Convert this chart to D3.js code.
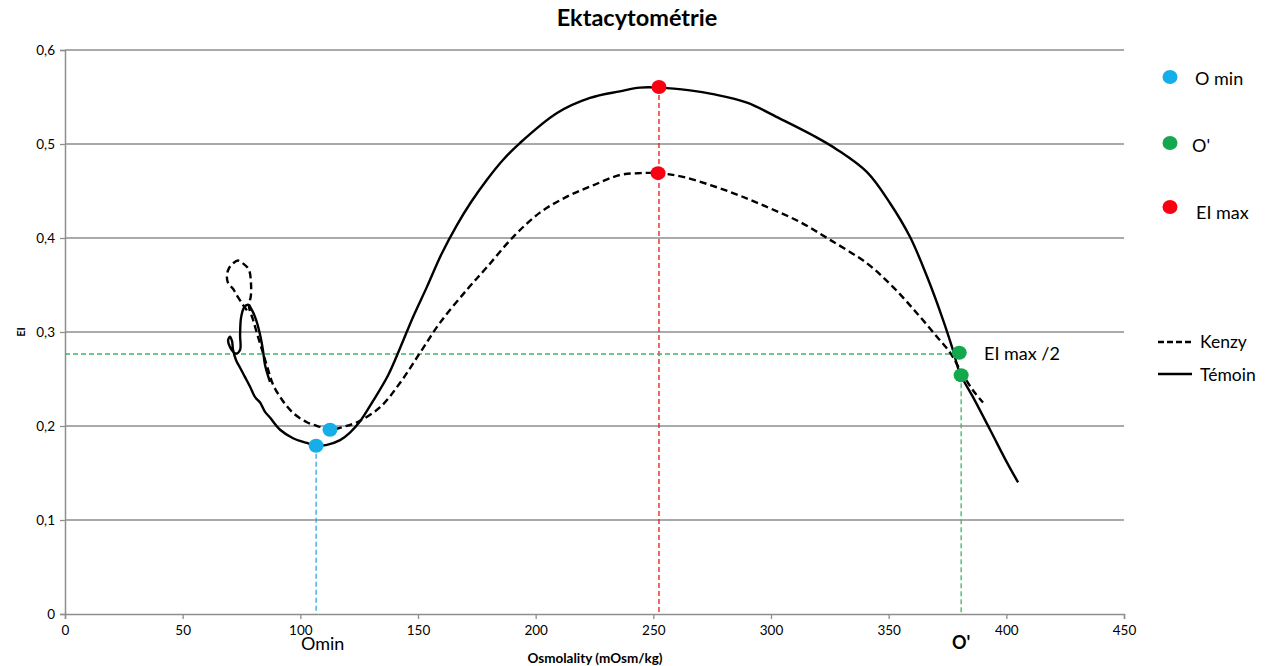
<!DOCTYPE html>
<html>
  <head>
    <title>Ektacytométrie</title>
    <meta charset="utf-8" />
    <style>
      body { margin: 0; background: #fff; }
      text { font-family: Lato, "Open Sans", sans-serif; }
    </style>
  </head>
  <body>
    <div id="plot"></div>

    <script src="https://d3js.org/d3.v7.min.js"></script>
    <script>
      // Témoin (solid), in drawing order
      const temoinX = [87.1, 85.0, 84.1, 82.9, 81.2, 79.5, 77.8, 76.1, 74.8, 74.4, 74.4, 72.7, 71.4, 70.1, 69.3, 70.1, 71.0, 71.4, 72.7,
        74.4, 76.5, 78.6, 80.7, 82.9, 85.0, 87.1, 91.4, 96.9, 102.8, 106.7, 111.3, 116.9, 121.1, 125.4, 130.5, 137.3, 142.4,
        147.9, 153.8, 160.0, 166.6, 172.5, 179.3, 186.1, 193.3, 209.1, 223.1, 235.8, 244.3, 252.8, 265.6, 275.4, 289.8, 303.8,
        317.9, 328.1, 340.8, 350.6, 359.1, 366.3, 373.1, 377.3, 380.3, 385.8, 393.1, 400.3, 405.0];
      const temoinY = [0.247, 0.265, 0.281, 0.297, 0.313, 0.323, 0.329, 0.326, 0.315, 0.297, 0.281, 0.277, 0.279, 0.284, 0.291, 0.295, 0.290, 0.281, 0.270,
        0.262, 0.252, 0.242, 0.231, 0.225, 0.215, 0.209, 0.196, 0.187, 0.182, 0.179, 0.180, 0.185, 0.193, 0.205, 0.225, 0.254, 0.283,
        0.316, 0.348, 0.383, 0.414, 0.438, 0.462, 0.483, 0.501, 0.533, 0.549, 0.556, 0.560, 0.560, 0.557, 0.553, 0.544, 0.527,
        0.509, 0.494, 0.470, 0.437, 0.401, 0.359, 0.313, 0.281, 0.256, 0.231, 0.196, 0.161, 0.140];

      // Kenzy (dashed)
      const kenzyX = [77.3, 75.6, 73.5, 71.4, 69.3, 68.8, 69.7, 71.4, 73.5, 76.1, 78.2, 79.0, 79.0, 78.2, 79.9, 82.0, 84.1, 86.3,
        88.4, 92.2, 96.9, 102.8, 108.4, 113.0, 118.1, 124.1, 133.9, 142.4, 150.9, 159.4, 170.8, 179.3, 190.4, 201.8, 213.3,
        224.4, 235.8, 244.3, 252.0, 262.6, 282.6, 298.3, 312.3, 325.1, 340.8, 351.8, 362.0, 370.5, 376.1, 380.3, 385.8, 390.1];
      const kenzyY = [0.323, 0.329, 0.337, 0.346, 0.352, 0.360, 0.368, 0.373, 0.376, 0.372, 0.366, 0.353, 0.339, 0.327, 0.313, 0.295, 0.278, 0.260,
        0.244, 0.228, 0.214, 0.204, 0.199, 0.196, 0.199, 0.204, 0.220, 0.246, 0.278, 0.310, 0.345, 0.369, 0.401, 0.427, 0.444,
        0.456, 0.467, 0.469, 0.469, 0.465, 0.449, 0.433, 0.417, 0.398, 0.373, 0.348, 0.320, 0.295, 0.278, 0.260, 0.238, 0.225];

      // marked points
      const ominPoints = [[106.7, 0.179], [112.6, 0.196]];
      const oPrimePoints = [[380.0, 0.278], [380.8, 0.254]];
      const eiMaxPoints = [[252.4, 0.5606], [252.0, 0.469]];
      const eiMaxHalf = 0.2766;

      const xTicks = [0, 50, 100, 150, 200, 250, 300, 350, 400, 450];
      const yTicks = [0, 0.1, 0.2, 0.3, 0.4, 0.5, 0.6];

      const width = 1283, height = 666;
      const margin = { top: 50, right: 159, bottom: 52, left: 65 };

      const svg = d3.select("#plot")
        .append("svg")
        .attr("width", width)
        .attr("height", height);

      const x = d3.scaleLinear().domain([0, 450]).range([margin.left, width - margin.right]);
      const y = d3.scaleLinear().domain([0, 0.6]).range([height - margin.bottom, margin.top]);

      const grey = "#8e8e8e";

      // grid lines
      svg.append("g")
        .selectAll("line")
        .data(yTicks.filter(d => d > 0))
        .join("line")
        .attr("x1", x(0)).attr("x2", x(450))
        .attr("y1", d => y(d)).attr("y2", d => y(d))
        .attr("stroke", grey).attr("stroke-width", 1.3);

      // axes
      const fmt = d => d === 0 ? "0" : d3.format(".1f")(d).replace(".", ",");
      const yAxis = svg.append("g")
        .attr("transform", `translate(${x(0)},0)`)
        .call(d3.axisLeft(y).tickValues(yTicks).tickFormat(fmt).tickSize(5).tickPadding(5));
      const xAxis = svg.append("g")
        .attr("transform", `translate(0,${y(0)})`)
        .call(d3.axisBottom(x).tickValues(xTicks).tickSize(5).tickPadding(6));
      [xAxis, yAxis].forEach(a => {
        a.select(".domain").attr("stroke", grey).attr("stroke-width", 1.5);
        a.selectAll(".tick line").attr("stroke", grey).attr("stroke-width", 1.3);
        a.selectAll("text").attr("font-size", 13.5).attr("fill", "#000").style("font-family", "Lato, sans-serif");
      });

      // dashed reference lines
      const refDash = "5,3";
      svg.append("line")
        .attr("x1", x(ominPoints[0][0])).attr("x2", x(ominPoints[0][0]))
        .attr("y1", y(ominPoints[0][1])).attr("y2", y(0))
        .attr("stroke", "#29abe2").attr("stroke-width", 1.3).attr("stroke-dasharray", refDash);
      svg.append("line")
        .attr("x1", x(eiMaxPoints[0][0])).attr("x2", x(eiMaxPoints[0][0]))
        .attr("y1", y(eiMaxPoints[0][1])).attr("y2", y(0))
        .attr("stroke", "#f0141e").attr("stroke-width", 1.3).attr("stroke-dasharray", refDash);
      svg.append("line")
        .attr("x1", x(0)).attr("x2", x(oPrimePoints[0][0]))
        .attr("y1", y(eiMaxHalf)).attr("y2", y(eiMaxHalf))
        .attr("stroke", "#3cb860").attr("stroke-width", 1.3).attr("stroke-dasharray", refDash);
      svg.append("line")
        .attr("x1", x(oPrimePoints[1][0])).attr("x2", x(oPrimePoints[1][0]))
        .attr("y1", y(oPrimePoints[1][1])).attr("y2", y(0))
        .attr("stroke", "#3cb860").attr("stroke-width", 1.3).attr("stroke-dasharray", refDash);

      // curves
      const line = d3.line()
        .x(d => x(d[0]))
        .y(d => y(d[1]))
        .curve(d3.curveCatmullRom.alpha(0.5));

      svg.append("path")
        .datum(temoinX.map((v, i) => [v, temoinY[i]]))
        .attr("d", line)
        .attr("fill", "none").attr("stroke", "#000").attr("stroke-width", 2.4)
        .attr("stroke-linejoin", "round");
      svg.append("path")
        .datum(kenzyX.map((v, i) => [v, kenzyY[i]]))
        .attr("d", line)
        .attr("fill", "none").attr("stroke", "#000").attr("stroke-width", 2.4)
        .attr("stroke-dasharray", "7,4");

      // markers
      const markers = [
        { pts: ominPoints, color: "#16aee8" },
        { pts: oPrimePoints, color: "#13a84e" },
        { pts: eiMaxPoints, color: "#fb0012" }
      ];
      markers.forEach(m => {
        svg.append("g")
          .selectAll("ellipse")
          .data(m.pts)
          .join("ellipse")
          .attr("cx", d => x(d[0])).attr("cy", d => y(d[1]))
          .attr("rx", 7.5).attr("ry", 7)
          .attr("fill", m.color);
      });

      // annotations
      svg.append("text").attr("x", 984).attr("y", 360).attr("font-size", 18).text("EI max /2");
      svg.append("text").attr("x", 301).attr("y", 650).attr("font-size", 18).text("Omin");
      svg.append("text").attr("x", 952).attr("y", 649).attr("font-size", 18).attr("font-weight", "bold").text("O'");

      // titles
      svg.append("text").attr("x", 637).attr("y", 26).attr("text-anchor", "middle")
        .attr("font-size", 23.5).attr("font-weight", "bold").text("Ektacytométrie");
      svg.append("text").attr("x", 595).attr("y", 663).attr("text-anchor", "middle")
        .attr("font-size", 13.5).attr("font-weight", "bold").text("Osmolality (mOsm/kg)");
      svg.append("text").attr("transform", "translate(25,332) rotate(-90)").attr("text-anchor", "middle")
        .attr("font-size", 11).attr("font-weight", "bold").text("EI");

      // legend
      const legendDots = [
        { label: "O min", color: "#16aee8", cy: 77, tx: 1195, ty: 85 },
        { label: "O'", color: "#13a84e", cy: 143, tx: 1192, ty: 152 },
        { label: "EI max", color: "#fb0012", cy: 207, tx: 1196, ty: 219 }
      ];
      legendDots.forEach(l => {
        svg.append("ellipse").attr("cx", 1170).attr("cy", l.cy).attr("rx", 7.5).attr("ry", 7).attr("fill", l.color);
        svg.append("text").attr("x", l.tx).attr("y", l.ty).attr("font-size", 18).text(l.label);
      });
      svg.append("line").attr("x1", 1158).attr("x2", 1192).attr("y1", 342).attr("y2", 342)
        .attr("stroke", "#000").attr("stroke-width", 2.4).attr("stroke-dasharray", "6,3");
      svg.append("text").attr("x", 1200).attr("y", 348).attr("font-size", 17.5).text("Kenzy");
      svg.append("line").attr("x1", 1158).attr("x2", 1192).attr("y1", 374).attr("y2", 374)
        .attr("stroke", "#000").attr("stroke-width", 2.4);
      svg.append("text").attr("x", 1200).attr("y", 381).attr("font-size", 17.5).text("Témoin");
    </script>
  </body>
</html>
